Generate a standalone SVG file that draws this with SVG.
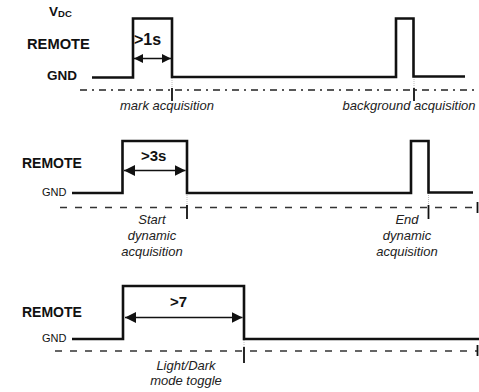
<svg xmlns="http://www.w3.org/2000/svg" width="479" height="392" viewBox="0 0 479 392">
<defs>
<style>
.sig{fill:none;stroke:#111;stroke-width:2.6;stroke-linejoin:miter}
.base1{stroke:#222;stroke-width:1.3;stroke-dasharray:7 5 2 5}
.base{stroke:#333;stroke-width:1.3;stroke-dasharray:7 8}
.tick{stroke:#111;stroke-width:1.8}
.guide{stroke:#bbb;stroke-width:1;stroke-dasharray:1 1}
.dim{stroke:#111;stroke-width:1.4}
.lbl{font-family:"Liberation Sans",Arial,sans-serif;font-weight:bold;fill:#111}
.small{font-family:"Liberation Sans",Arial,sans-serif;fill:#111}
.cap{font-family:"Liberation Sans",Arial,sans-serif;font-style:italic;fill:#222;font-size:13px;text-anchor:middle}
</style>
<marker id="ah" viewBox="0 0 10 10" refX="10" refY="5" markerWidth="9" markerHeight="9" markerUnits="userSpaceOnUse" orient="auto-start-reverse">
<path d="M0,0 L10,5 L0,10 z" fill="#111"/>
</marker>
<marker id="ahL" viewBox="0 0 10 10" refX="10" refY="5" markerWidth="11" markerHeight="11" markerUnits="userSpaceOnUse" orient="auto-start-reverse">
<path d="M0,0 L10,5 L0,10 z" fill="#111"/>
</marker>
</defs>

<g id="panel1">
<text class="lbl" x="49" y="16" font-size="13.5">V<tspan font-size="9.5" dy="1">DC</tspan></text>
<text class="lbl" x="27" y="49" font-size="14.7">REMOTE</text>
<text class="lbl" x="47" y="80" font-size="13.5">GND</text>
<text class="lbl" x="134" y="45" font-size="16">&gt;1s</text>
<text class="cap" x="167" y="110">mark acquisition</text>
<text class="cap" x="409" y="110">background acquisition</text>
</g>

<g id="panel2">
<text class="lbl" x="22" y="168" font-size="14">REMOTE</text>
<text class="small" x="42" y="196" font-size="11">GND</text>
<text class="lbl" x="141" y="161" font-size="15">&gt;3s</text>
<text class="cap" x="152" y="224">Start</text>
<text class="cap" x="152" y="240">dynamic</text>
<text class="cap" x="152" y="256">acquisition</text>
<text class="cap" x="407" y="224">End</text>
<text class="cap" x="407" y="240">dynamic</text>
<text class="cap" x="407" y="256">acquisition</text>
</g>

<g id="panel3">
<text class="lbl" x="22" y="317" font-size="14">REMOTE</text>
<text class="small" x="42" y="342" font-size="11">GND</text>
<text class="lbl" x="170" y="307" font-size="15">&gt;7</text>
<text class="cap" x="186" y="370">Light/Dark</text>
<text class="cap" x="186" y="385">mode toggle</text>
</g>

<g id="connectors">
<!-- panel 1 -->
<line class="base1" x1="80" y1="90" x2="479" y2="90"/>
<line class="guide" x1="172" y1="78" x2="172" y2="90"/>
<line class="guide" x1="414" y1="77" x2="414" y2="90"/>
<polyline class="sig" points="92,77.5 133,77.5 133,18.5 172,18.5 172,77 396,77 396,18.5 413.5,18.5 413.5,76.5 465,76.5"/>
<line class="dim" x1="134" y1="58.5" x2="171" y2="58.5" marker-start="url(#ah)" marker-end="url(#ah)"/>
<line class="tick" x1="172" y1="88" x2="172" y2="101"/>
<line class="tick" x1="414" y1="88" x2="414" y2="101"/>
<!-- panel 2 -->
<line class="base" x1="60" y1="207.5" x2="477" y2="207.5"/>
<line class="guide" x1="187" y1="193" x2="187" y2="207"/>
<line class="guide" x1="428.5" y1="193" x2="428.5" y2="207"/>
<polyline class="sig" points="72,193 122.5,193 122.5,141 187,141 187,193 411,193 411,141 428.5,141 428.5,192.5 473,192.5"/>
<line class="dim" x1="124" y1="170.5" x2="185.5" y2="170.5" marker-start="url(#ahL)" marker-end="url(#ahL)"/>
<line class="tick" x1="187" y1="205" x2="187" y2="219"/>
<line class="tick" x1="428.5" y1="205" x2="428.5" y2="219"/>
<line class="tick" x1="477.5" y1="202" x2="477.5" y2="213"/>
<!-- panel 3 -->
<line class="base" x1="55" y1="351" x2="477" y2="351"/>
<line class="guide" x1="244" y1="340" x2="244" y2="351"/>
<polyline class="sig" points="72,339 123,339 123,286 244,286 244,339 479,339"/>
<line class="dim" x1="125" y1="317.5" x2="242.5" y2="317.5" marker-start="url(#ahL)" marker-end="url(#ahL)"/>
<line class="tick" x1="244" y1="347" x2="244" y2="363"/>
<line class="tick" x1="477.5" y1="345" x2="477.5" y2="356"/>
</g>
</svg>
